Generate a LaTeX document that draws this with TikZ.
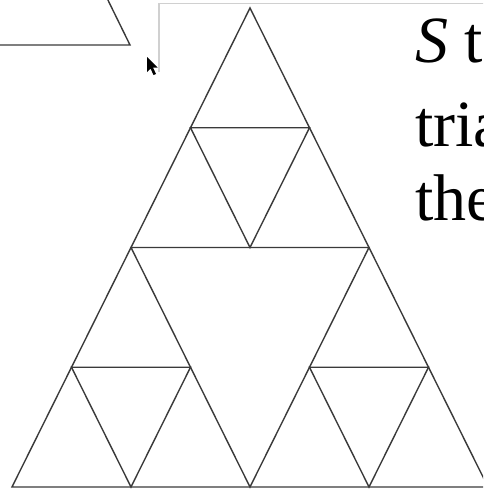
\documentclass[tikz,border=0pt]{standalone}
\usepackage{fontspec}
\setmainfont{Liberation Serif}
\usetikzlibrary{calc}

\begin{document}
\begin{tikzpicture}[x=1pt,y=-1pt]
    \def\slidefs{66}

    \definecolor{tri-line}{HTML}{3A3A3A}
    \definecolor{frame-grey}{HTML}{D0D0D0}

    \tikzset{
      triline/.style={
        draw=tri-line,
        line width=1.4pt,
        line join=miter
      },
      framerule/.style={
        draw=frame-grey,
        line width=1.2pt
      },
      slidetext/.style={
        font=\fontsize{\slidefs}{80}\selectfont,
        anchor=base west,
        inner sep=0pt
      }
    }

    \useasboundingbox (0,0) rectangle (483,490);
    \clip (0,0) rectangle (483,490);

    % corner of the previous shape and the slide frame
    \draw[triline] (-10,45) -- (130,45) -- (104,-8);
    \draw[framerule] (159,72) -- (159,3.5) -- (495,3.5);

    % outer triangle and midpoints
    \coordinate (apex) at (250,8);
    \coordinate (bl) at (12,487);
    \coordinate (br) at (488,487);
    \coordinate (mab) at ($(apex)!0.5!(bl)$);
    \coordinate (mac) at ($(apex)!0.5!(br)$);
    \coordinate (mbc) at ($(bl)!0.5!(br)$);

    \draw[triline] (apex) -- (bl) -- (br) -- cycle;
    \foreach \a/\b/\c in {apex/bl/br, apex/mab/mac, mab/bl/mbc, mac/mbc/br} {
      \draw[triline] ($(\a)!0.5!(\b)$) -- ($(\b)!0.5!(\c)$) -- ($(\a)!0.5!(\c)$) -- cycle;
    }

    % text running off the right edge
    \node[slidetext] (lineone) at (415,62) {\textit{S} t};
    \node[slidetext] (linetwo) at (415,146) {tria};
    \node[slidetext] (linethree) at (415,220) {the};

    % mouse pointer
    \fill[black] (147,57) -- (147,72) -- (150.5,68.5) -- (153.5,75) -- (156,74) -- (153,67.5) -- (157.5,67.5) -- cycle;
  \end{tikzpicture}
\end{document}
